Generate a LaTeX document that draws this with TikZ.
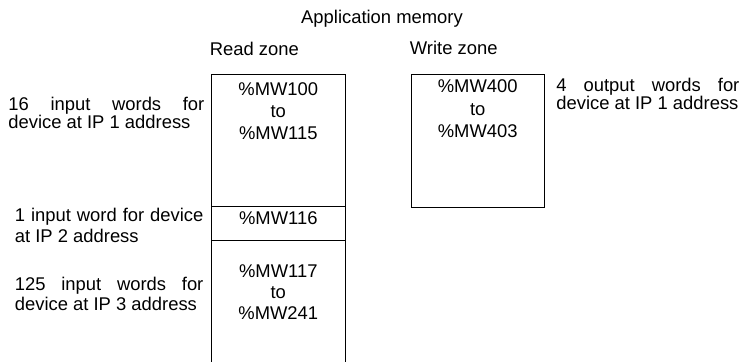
\documentclass[tikz,border=0pt]{standalone}
\usepackage{fontspec}
\setmainfont{Liberation Sans}
\usepackage{tikz}
\usetikzlibrary{positioning}
\tolerance=10000
\hyphenpenalty=10000
\tikzset{zone/.style={line width=0.5pt},
         addr/.style={anchor=north, align=center, inner sep=0pt,
           font=\fontsize{9.2}{11}\selectfont},
         note/.style={anchor=north west, align=justify, inner sep=0pt,
           font=\fontsize{9.2}{9.25}\selectfont},
         head/.style={anchor=north west, inner sep=0pt,
           font=\fontsize{9.2}{11}\selectfont}}

\begin{document}
\begin{tikzpicture}[x=0.5pt,y=-0.5pt]
  \useasboundingbox (0,0) rectangle (746,362);
  % read zone (open at the bottom) and write zone
  \draw[zone] (211.7,362) -- (211.7,75) -- (345,75) -- (345,362);
  \draw[zone] (211.7,207) -- (345,207) (211.7,241) -- (345,241);
  \draw[zone] (411,75) rectangle (544.5,207.5);
  % headings
  \node[head, anchor=north] (appmem) at (382,10) {Application memory};
  \node[head] (readzone) at (209.5,41.5) {Read zone};
  \node[head] (writezone) at (409.5,40.5) {Write zone};
  % addresses
  \node[addr] (mw100) at (278.3,82) {\%MW100\\to\\\%MW115};
  \node[addr] (mw116) at (278.3,211.7) {\%MW116};
  \node[addr, font=\fontsize{9.2}{10.5}\selectfont] (mw117) at (278.3,264) {\%MW117\\to\\\%MW241};
  \node[addr, font=\fontsize{9.2}{11.2}\selectfont] (mw400) at (477.7,79.5) {\%MW400\\to\\\%MW403};
  % device notes
  \node[note, text width=98pt] (ip1in) at (8,96.5) {16 input words for device at IP 1 address};
  \node[note, text width=94.25pt, font=\fontsize{9.2}{10.5}\selectfont] (ip2in) at (14.5,207.3) {1 input word for device at IP 2 address};
  \node[note, text width=94.25pt, font=\fontsize{9.2}{10}\selectfont] (ip3in) at (14.5,276.7) {125 input words for device at IP 3 address};
  \node[note, text width=91.5pt, font=\fontsize{9.2}{9}\selectfont] (ip1out) at (556,77.5) {4 output words for device at IP 1 address};
\end{tikzpicture}
\end{document}
